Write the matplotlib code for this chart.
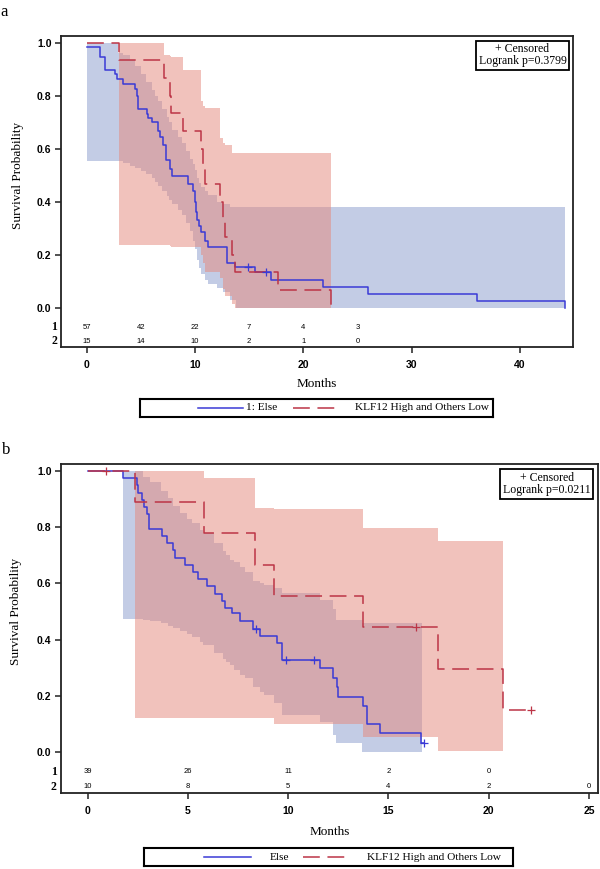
import matplotlib
matplotlib.use('Agg')
import matplotlib.pyplot as plt
import matplotlib.transforms as mtransforms
from matplotlib.lines import Line2D

# ================= Panel a data =================
a_else_t = [0.0, 1.23, 1.69, 2.61, 2.83, 3.38, 4.46, 4.61, 4.77, 5.54, 5.69, 6.0, 6.6, 6.77,
            7.08, 7.29, 7.69, 7.85, 9.39, 9.85, 10.0, 10.1, 10.2, 10.35, 10.55, 10.9, 11.2,
            13.0, 13.7, 15.5, 17.0, 21.8, 26.0, 36.0, 44.2]
a_else_s = [0.982, 0.947, 0.898, 0.88, 0.862, 0.842, 0.825, 0.80, 0.75, 0.732, 0.716, 0.70,
            0.667, 0.645, 0.612, 0.558, 0.522, 0.495, 0.468, 0.439, 0.40, 0.36, 0.33, 0.306,
            0.287, 0.25, 0.228, 0.17, 0.152, 0.133, 0.103, 0.077, 0.051, 0.026, 0.0]
a_else_cens_t = [14.9, 16.6]
a_else_cens_s = [0.152, 0.133]

a_klf_t = [0.0, 3.0, 7.1, 7.7, 7.8, 8.9, 10.6, 10.7, 10.9, 12.3, 12.6, 12.8, 13.4, 13.7, 17.7, 22.6]
a_klf_s = [1.0, 0.933, 0.867, 0.8, 0.733, 0.667, 0.6, 0.533, 0.467, 0.4, 0.333, 0.267, 0.2,
           0.133, 0.067, 0.0]

a_else_band_t = [0.0, 2.9, 3.4, 4.0, 4.5, 5.0, 5.5, 6.0, 6.3, 6.6, 7.0, 7.4, 7.6, 7.9, 8.4,
                 8.8, 9.2, 9.5, 9.8, 10.0, 10.2, 10.4, 10.6, 10.9, 11.2, 12.0, 12.6, 13.2,
                 13.8, 44.2]
a_else_band_lo = [0.554, 0.554, 0.545, 0.535, 0.525, 0.515, 0.505, 0.49, 0.475, 0.46, 0.44,
                  0.42, 0.405, 0.39, 0.37, 0.35, 0.32, 0.29, 0.25, 0.22, 0.18, 0.15, 0.125,
                  0.105, 0.09, 0.075, 0.06, 0.03, 0.0, 0.0]
a_else_band_hi = [1.0, 0.96, 0.955, 0.935, 0.91, 0.88, 0.85, 0.82, 0.80, 0.78, 0.75, 0.72,
                  0.70, 0.67, 0.645, 0.62, 0.59, 0.56, 0.54, 0.52, 0.49, 0.47, 0.455, 0.44,
                  0.425, 0.40, 0.39, 0.379, 0.379, 0.379]

a_klf_band_t = [3.0, 7.1, 7.7, 7.8, 8.9, 10.6, 10.7, 10.9, 12.3, 12.6, 12.8, 13.4, 13.7, 22.6]
a_klf_band_lo = [0.235, 0.235, 0.232, 0.23, 0.228, 0.20, 0.17, 0.135, 0.11, 0.07, 0.045,
                 0.015, 0.0, 0.0]
a_klf_band_hi = [1.0, 0.955, 0.95, 0.945, 0.898, 0.78, 0.76, 0.753, 0.64, 0.62, 0.615,
                 0.583, 0.583, 0.583]

a_risk_times = [0, 5, 10, 15, 20, 25]
a_risk_1 = [57, 42, 22, 7, 4, 3]
a_risk_2 = [15, 14, 10, 2, 1, 0]
a_xticks = [0, 10, 20, 30, 40]
a_pvalue = "Logrank p=0.3799"
a_labels = ["1: Else", "KLF12 High and Others Low"]

# ================= Panel b data =================
b_else_t = [0.0, 1.78, 2.44, 2.53, 2.69, 2.81, 2.94, 3.07, 3.69, 3.94, 4.27, 4.35, 4.85,
            5.27, 5.52, 5.93, 6.35, 6.68, 6.85, 7.18, 7.6, 8.26, 8.6, 9.43, 9.67, 11.58,
            12.25, 12.42, 12.5, 13.75, 13.91, 14.58, 16.65, 16.8]
b_else_s = [1.0, 0.974, 0.949, 0.923, 0.897, 0.872, 0.846, 0.795, 0.769, 0.744, 0.718,
            0.692, 0.667, 0.641, 0.615, 0.590, 0.564, 0.538, 0.513, 0.494, 0.465, 0.437,
            0.413, 0.387, 0.328, 0.298, 0.262, 0.232, 0.197, 0.164, 0.10, 0.069, 0.033, 0.033]
b_else_cens_t = [8.4, 9.89, 11.3, 16.8]
b_else_cens_s = [0.437, 0.328, 0.328, 0.033]

b_klf_t = [0.0, 2.36, 5.8, 8.35, 9.3, 13.75, 17.45, 20.7, 22.1]
b_klf_s = [1.0, 0.889, 0.778, 0.667, 0.556, 0.444, 0.296, 0.148, 0.148]
b_klf_cens_t = [0.91, 16.4, 22.1]
b_klf_cens_s = [1.0, 0.444, 0.148]

b_else_band_t = [1.78, 2.77, 3.1, 3.65, 4.03, 4.27, 4.6, 4.94, 5.18, 5.6, 5.75, 6.3, 6.76,
                 6.9, 7.1, 7.28, 7.6, 7.86, 8.24, 8.6, 8.81, 9.29, 9.67, 11.58, 12.25, 12.4,
                 13.7, 16.7]
b_else_band_lo = [0.473, 0.47, 0.465, 0.459, 0.447, 0.44, 0.429, 0.42, 0.411, 0.39, 0.381,
                  0.353, 0.33, 0.322, 0.31, 0.292, 0.275, 0.263, 0.233, 0.215, 0.203, 0.173,
                  0.13, 0.105, 0.06, 0.033, 0.0, 0.0]
b_else_band_hi = [1.0, 0.98, 0.96, 0.93, 0.905, 0.875, 0.85, 0.83, 0.815, 0.79, 0.78, 0.745,
                  0.715, 0.70, 0.685, 0.675, 0.66, 0.64, 0.61, 0.60, 0.595, 0.585, 0.565,
                  0.54, 0.51, 0.47, 0.46, 0.46]

b_klf_band_t = [2.36, 5.8, 8.35, 9.3, 13.75, 17.45, 20.7]
b_klf_band_lo = [0.122, 0.122, 0.122, 0.099, 0.055, 0.005, 0.005]
b_klf_band_hi = [1.0, 0.976, 0.869, 0.865, 0.797, 0.75, 0.75]

b_risk_times_1 = [0, 5, 10, 15, 20]
b_risk_1 = [39, 26, 11, 2, 0]
b_risk_times_2 = [0, 5, 10, 15, 20, 25]
b_risk_2 = [10, 8, 5, 4, 2, 0]
b_xticks = [0, 5, 10, 15, 20, 25]
b_pvalue = "Logrank p=0.0211"
b_labels = ["Else", "KLF12 High and Others Low"]

yticks = [0.0, 0.2, 0.4, 0.6, 0.8, 1.0]

# ================= Styling =================
BLUE_LINE = '#3A3AD6'
RED_LINE = '#BC3446'
BLUE_FILL = (137/255, 155/255, 205/255)
RED_FILL = (229/255, 135/255, 123/255)
SERIF = 'Liberation Serif'
SANS = 'Liberation Sans'
FRAME = '#222222'
DASH = (0, (11, 5))

W, H = 600, 869
fig = plt.figure(figsize=(W/100, H/100), dpi=100)


def px_axes(l, t, r, b):
    return fig.add_axes([l/W, 1 - b/H, (r - l)/W, (b - t)/H])


def draw_panel(ax, xlim, ylim, xticks, else_t, else_s, klf_t, klf_s,
               eb_t, eb_lo, eb_hi, kb_t, kb_lo, kb_hi,
               else_ct, else_cs, klf_ct, klf_cs, pval, risk1, risk2):
    ax.fill_between(eb_t, eb_lo, eb_hi, step='post', color=BLUE_FILL, alpha=0.5, lw=0)
    ax.fill_between(kb_t, kb_lo, kb_hi, step='post', color=RED_FILL, alpha=0.5, lw=0)
    ax.step(else_t, else_s, where='post', color=BLUE_LINE, lw=1.1)
    ax.step(klf_t, klf_s, where='post', color=RED_LINE, lw=1.1, linestyle=DASH)
    if else_ct:
        ax.plot(else_ct, else_cs, ls='none', marker='+', ms=6, mew=0.9, color=BLUE_LINE)
    if klf_ct:
        ax.plot(klf_ct, klf_cs, ls='none', marker='+', ms=6, mew=0.9, color=RED_LINE)
    ax.set_xlim(*xlim)
    ax.set_ylim(*ylim)
    ax.set_xticks(xticks)
    ax.set_xticklabels([str(v) for v in xticks], fontfamily=SANS, fontweight='bold', fontsize=7.5)
    ax.set_yticks(yticks)
    ax.set_yticklabels([f"{v:.1f}" for v in yticks], fontfamily=SANS, fontweight='bold', fontsize=7.5)
    ax.tick_params(axis='x', direction='out', length=4, width=1.1, pad=5.3, color=FRAME)
    ax.tick_params(axis='y', direction='out', length=4.5, width=1.1, pad=2.4, color=FRAME)
    for sp in ax.spines.values():
        sp.set_linewidth(1.3)
        sp.set_color(FRAME)
    ax.set_ylabel('Survival Probability', fontfamily=SERIF, fontsize=9.5)
    ax.yaxis.set_label_coords(-0.073, 0.553)
    ax.text(0.5, -0.118, 'Months', transform=ax.transAxes, ha='center', va='center',
            fontfamily=SERIF, fontsize=9.5)
    ax.text(0.9865, 0.9775, '+ Censored\n' + pval, transform=ax.transAxes, ha='right', va='top',
            multialignment='center', fontfamily=SERIF, fontsize=8.5, linespacing=1.05,
            bbox=dict(boxstyle='square,pad=0.2', fc='white', ec='black', lw=1.3), zorder=5)
    tr = mtransforms.blended_transform_factory(ax.transAxes, ax.transData)
    (rt1, rv1, ry1), (rt2, rv2, ry2) = risk1, risk2
    for t, v in zip(rt1, rv1):
        ax.text(t, ry1, str(v), ha='center', va='center', fontfamily=SANS, fontsize=5.5)
    for t, v in zip(rt2, rv2):
        ax.text(t, ry2, str(v), ha='center', va='center', fontfamily=SANS, fontsize=5.5)
    ax.text(-0.008, ry1, '1', transform=tr, ha='right', va='center', fontfamily=SERIF,
            fontweight='bold', fontsize=8.5)
    ax.text(-0.008, ry2, '2', transform=tr, ha='right', va='center', fontfamily=SERIF,
            fontweight='bold', fontsize=8.5)


def draw_legend(box, labels, pos):
    lax = px_axes(*box)
    lax.set_xlim(0, 1)
    lax.set_ylim(0, 1)
    lax.set_xticks([])
    lax.set_yticks([])
    for sp in lax.spines.values():
        sp.set_linewidth(1.5)
        sp.set_color('black')
    b0, b1, t1, r0, r1, t2 = pos
    lax.add_line(Line2D([b0, b1], [0.5, 0.5], color=BLUE_LINE, lw=1.1))
    lax.text(t1, 0.5, labels[0], ha='left', va='center', fontfamily=SERIF, fontsize=8.2)
    lax.add_line(Line2D([r0, r1], [0.5, 0.5], color=RED_LINE, lw=1.1, linestyle=DASH))
    lax.text(t2, 0.5, labels[1], ha='left', va='center', fontfamily=SERIF, fontsize=8.2)


# ---- Panel a ----
axA = px_axes(61, 36, 573.3, 347.3)
draw_panel(axA, (-2.37, 44.93), (-0.150, 1.025), a_xticks,
           a_else_t, a_else_s, a_klf_t, a_klf_s,
           a_else_band_t, a_else_band_lo, a_else_band_hi,
           a_klf_band_t, a_klf_band_lo, a_klf_band_hi,
           a_else_cens_t, a_else_cens_s, [], [], a_pvalue,
           (a_risk_times, a_risk_1, -0.074), (a_risk_times, a_risk_2, -0.127))
draw_legend((140, 399, 493, 417), a_labels, (0.164, 0.292, 0.300, 0.433, 0.552, 0.609))
fig.text(4.5/W, 1 - 12/H, 'a', fontfamily=SERIF, fontsize=12, ha='center', va='center')

# ---- Panel b ----
axB = px_axes(61, 464.3, 597.7, 793.3)
draw_panel(axB, (-1.33, 25.44), (-0.147, 1.024), b_xticks,
           b_else_t, b_else_s, b_klf_t, b_klf_s,
           b_else_band_t, b_else_band_lo, b_else_band_hi,
           b_klf_band_t, b_klf_band_lo, b_klf_band_hi,
           b_else_cens_t, b_else_cens_s, b_klf_cens_t, b_klf_cens_s, b_pvalue,
           (b_risk_times_1, b_risk_1, -0.070), (b_risk_times_2, b_risk_2, -0.124))
draw_legend((144, 848, 513.3, 866), b_labels, (0.163, 0.290, 0.341, 0.431, 0.550, 0.604))
fig.text(6/W, 1 - 450/H, 'b', fontfamily=SERIF, fontsize=12, ha='center', va='center')

fig.savefig('out.png', dpi=100, facecolor='white')
